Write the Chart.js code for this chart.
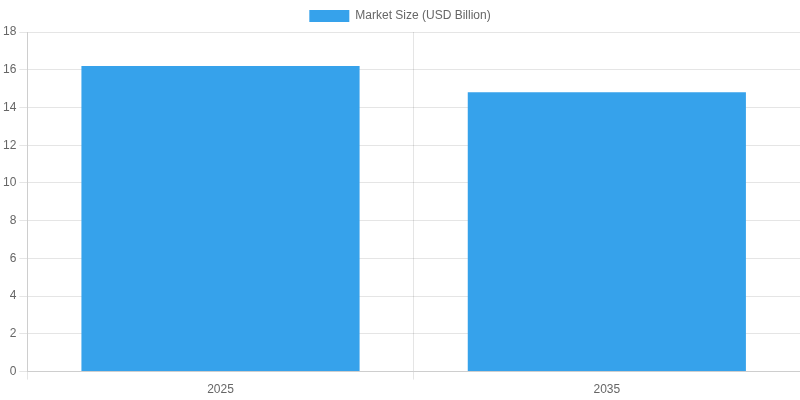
<!DOCTYPE html>
<html>
<head>
<meta charset="utf-8">
<script src="https://cdn.jsdelivr.net/npm/chart.js@4"></script>
<style>
  html, body { margin: 0; padding: 0; background: #fff; }
  #wrap { width: 800px; height: 400px; }
</style>
</head>
<body>
<div id="wrap"><canvas id="chart"></canvas></div>
<script>
const years = ["2025", "2035"];
const marketSize = [16.2, 14.8];
const seriesLabel = "Market Size (USD Billion)";

const ctx = document.getElementById("chart").getContext("2d");
new Chart(ctx, {
  type: "bar",
  data: {
    labels: years,
    datasets: [
      {
        label: seriesLabel,
        data: marketSize,
        backgroundColor: "#36A2EB",
        borderWidth: 0,
      },
    ],
  },
  options: {
    responsive: true,
    maintainAspectRatio: false,
    animation: false,
    scales: {
      y: {
        beginAtZero: true,
        max: 18,
        ticks: { stepSize: 2 },
      },
    },
    plugins: {
      legend: { display: true, position: "top" },
    },
  },
});
</script>
</body>
</html>
